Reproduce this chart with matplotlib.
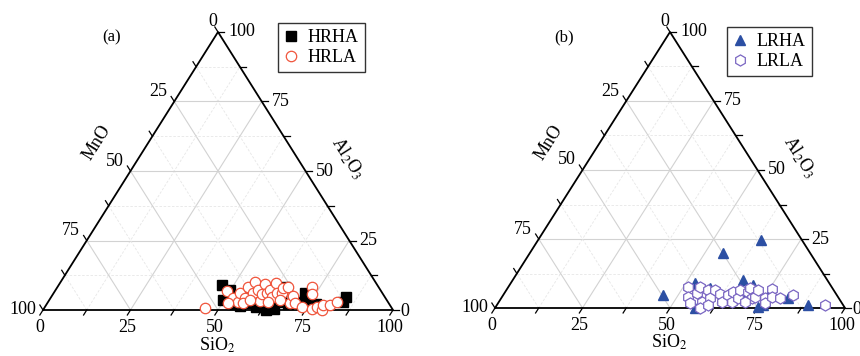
import numpy as np
import matplotlib.pyplot as plt

plt.rcParams['font.family'] = ['Liberation Serif', 'DejaVu Serif']
plt.rcParams['mathtext.fontset'] = 'stix'

### ------------------- Data -------------------
# compositions in wt.%, MnO = 100 - SiO2 - Al2O3

hrha_sio2 = [46.6, 49.6, 49.8, 52.6, 55.6, 55.6, 57.9, 60.3, 60.8, 63.7,
             64.2, 65.8, 65.4, 65.5, 65.0, 68.9, 69.6, 71.4, 71.8, 73.5,
             76.0, 76.9, 78.4, 84.2, 84.2, 58.2, 57.6, 62.5, 56.0, 52.9]
hrha_al2o3 = [9.0, 3.6, 7.2, 5.0, 1.4, 5.4, 2.5, 1.1, 3.6, 0.0,
              1.4, 0.4, 2.9, 5.0, 8.3, 2.2, 3.6, 2.9, 6.1, 3.2,
              1.8, 2.2, 1.4, 2.9, 4.7, 6.5, 4.3, 3.6, 2.9, 2.2]

hrla_sio2 = [45.9, 49.2, 52.1, 54.3, 53.2, 55.6, 55.9, 54.4, 57.0, 55.5,
             57.8, 60.4, 59.7, 58.7, 61.0, 61.3, 63.1, 61.7, 63.8, 65.3,
             64.6, 65.8, 69.3, 68.9, 70.8, 73.5, 72.7, 74.0, 76.7, 77.7,
             79.7, 79.1, 81.1, 82.6, 57.3, 65.9, 62.8, 51.6]
hrla_al2o3 = [0.7, 6.8, 4.3, 2.9, 6.1, 4.3, 2.5, 8.3, 6.1, 10.1,
              7.2, 3.2, 5.8, 9.4, 6.1, 7.2, 4.7, 9.7, 6.1, 6.1,
              7.9, 8.3, 2.5, 5.0, 2.5, 1.1, 8.3, 5.8, 0.4, 1.1,
              0.0, 1.8, 1.8, 2.9, 3.6, 3.6, 2.9, 2.5]

lrha_sio2 = [45.7, 55.2, 63.7, 52.6, 57.8, 62.9, 65.8, 69.6, 69.6, 70.2,
             76.0, 74.9, 81.9, 88.9, 57.1, 75.7, 65.3]
lrha_al2o3 = [4.7, 19.9, 24.6, 9.1, 7.2, 4.0, 10.1, 8.3, 3.6, 5.4,
              1.1, 0.4, 3.6, 1.1, 0.0, 5.8, 3.6]

lrla_sio2 = [51.3, 53.1, 54.8, 55.0, 54.8, 58.0, 58.6, 57.6, 59.6, 59.6,
             61.7, 63.8, 64.2, 66.6, 65.1, 67.6, 66.7, 69.4, 69.3, 71.6,
             72.3, 71.9, 75.3, 76.2, 75.7, 77.1, 79.6, 82.8, 93.7, 70.3, 60.3]
lrla_al2o3 = [7.6, 4.0, 1.8, 5.4, 7.6, 2.2, 0.0, 6.5, 3.6, 6.5,
              5.1, 2.2, 4.7, 2.2, 5.8, 3.6, 6.5, 5.8, 7.2, 3.6,
              4.0, 6.5, 3.6, 1.8, 6.9, 4.0, 3.6, 4.7, 1.1, 2.2, 1.1]

tick_vals = [0, 25, 50, 75, 100]


### ------------------- Script -------------------

def to_xy(sio2, al2o3):
    """Ternary (SiO2, Al2O3) -> cartesian, bottom edge 0..100, apex at y=100."""
    sio2 = np.asarray(sio2, float)
    al2o3 = np.asarray(al2o3, float)
    return sio2 + al2o3 / 2., al2o3


def draw_frame(ax, panel):
    ax.set_xlim(0, 100)
    ax.set_ylim(0, 100)
    ax.axis('off')

    # grid every 12.5, lighter dashed for the in-between lines
    for v in np.arange(12.5, 100, 12.5):
        if v % 25 == 0:
            kw = dict(color='#d2d2d2', lw=0.8, zorder=1)
        else:
            kw = dict(color='#e6e6e6', lw=0.6, ls=(0, (3, 2)), zorder=1)
        ax.plot([v / 2., 100 - v / 2.], [v, v], **kw)                  # const Al2O3
        ax.plot([v, v + (100 - v) / 2.], [0, 100 - v], **kw)           # const SiO2
        ax.plot([100 - v, (100 - v) / 2.], [0, 100 - v], **kw)         # const MnO

    ax.plot([0, 100, 50, 0], [0, 0, 100, 0], color='k', lw=1.3,
            zorder=2, clip_on=False, solid_joinstyle='miter')

    L = 1.8
    for v in np.arange(0, 100.1, 12.5):
        # SiO2 (bottom)
        ax.plot([v, v - L / 2.], [0, -L], color='k', lw=0.9, clip_on=False)
        # MnO (left), v = MnO
        a = 100 - v
        ax.plot([a / 2., -L + (a + L) / 2.], [a, a + L], color='k', lw=0.9, clip_on=False)
        # Al2O3 (right), v = Al2O3
        ax.plot([100 - v / 2., 100 - v / 2. + L], [v, v], color='k', lw=0.9, clip_on=False)

    fs = 13
    for v in tick_vals:
        # bottom
        ax.annotate(str(v), (v, 0), xytext=(-3, -18), textcoords='offset pixels',
                    ha='center', va='center', fontsize=fs, annotation_clip=False)
        # left
        a = 100 - v
        off = (-16, 10)
        if v == 0:
            off = (-5, 11)
        elif v == 100:
            off = (-20, 1)
        ax.annotate(str(v), (a / 2., a), xytext=off, textcoords='offset pixels',
                    ha='center', va='center', fontsize=fs, annotation_clip=False)
        # right
        off = (7, -1) if v == 0 else (10, 0)
        ax.annotate(str(v), (100 - v / 2., v), xytext=off, textcoords='offset pixels',
                    ha='left', va='center', fontsize=fs, annotation_clip=False)

    ang = np.degrees(np.arctan2(278, 176))
    ax.text(15.4, 60.1, 'MnO', rotation=ang, ha='center', va='center', fontsize=fs,
            rotation_mode='anchor')
    ax.text(87.1, 54.7, r'Al$_2$O$_3$', rotation=-ang, ha='center', va='center',
            fontsize=fs, rotation_mode='anchor')
    ax.text(49.7, -12.6, r'SiO$_2$', ha='center', va='center', fontsize=fs)
    ax.text(19.7, 98.2, panel, ha='center', va='center', fontsize=12)


fig = plt.figure(figsize=(8.6, 3.56), dpi=100)
ax1 = fig.add_axes([43 / 860., 46 / 356., 350 / 860., 278 / 356.])
ax2 = fig.add_axes([495 / 860., 48 / 356., 350 / 860., 276 / 356.])

draw_frame(ax1, '(a)')
draw_frame(ax2, '(b)')

x, y = to_xy(hrha_sio2, hrha_al2o3)
ax1.plot(x, y, 's', ms=6.5, mfc='k', mec='k', ls='none', label='HRHA', zorder=3, clip_on=False)
x, y = to_xy(hrla_sio2, hrla_al2o3)
ax1.plot(x, y, 'o', ms=7.5, mfc='white', mec='#f0553c', mew=0.9, ls='none',
         label='HRLA', zorder=4, clip_on=False)

x, y = to_xy(lrha_sio2, lrha_al2o3)
ax2.plot(x, y, '^', ms=7.5, mfc='#2c4fa3', mec='#2c4fa3', ls='none', label='LRHA',
         zorder=3, clip_on=False)
x, y = to_xy(lrla_sio2, lrla_al2o3)
ax2.plot(x, y, 'h', ms=8, mfc='white', mec='#7a66c2', mew=0.9, ls='none',
         label='LRLA', zorder=4, clip_on=False)

for ax, anchor in [(ax1, (365 / 860., 1 - 23 / 356.)), (ax2, (812 / 860., 1 - 27 / 356.))]:
    leg = ax.legend(loc='upper right', bbox_to_anchor=anchor, bbox_transform=fig.transFigure,
                    fontsize=13, handlelength=0.8, handletextpad=0.5, borderpad=0.35,
                    labelspacing=0.15, fancybox=False, framealpha=1, borderaxespad=0)
    leg.get_frame().set_edgecolor('#333333')
    leg.get_frame().set_linewidth(1.0)

plt.savefig('out.png', dpi=100)
